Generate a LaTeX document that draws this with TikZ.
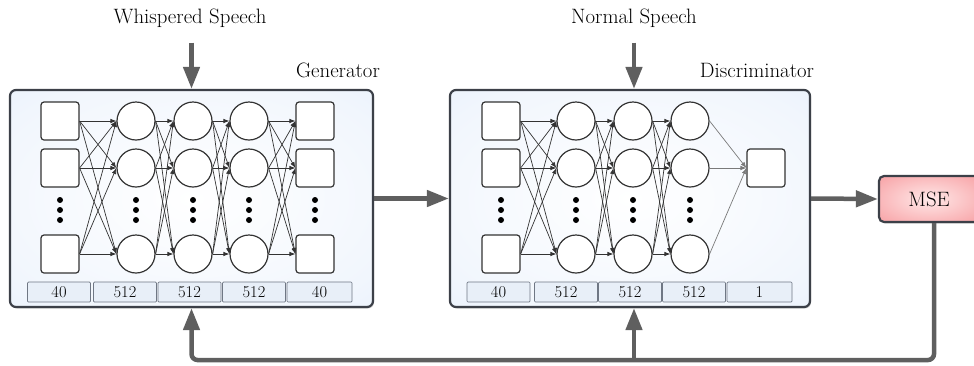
\documentclass[tikz,border=0pt]{standalone}
\usetikzlibrary{arrows.meta}
\usetikzlibrary{positioning}
\usetikzlibrary{shadows}

\definecolor{flowgray}{HTML}{5F5F5F}
\definecolor{edgegray}{HTML}{3C4048}
\definecolor{boxblue}{HTML}{E0EBFA}
\definecolor{boxmid}{HTML}{F1F6FD}
\definecolor{cellblue}{HTML}{E8EFF8}
\definecolor{cellline}{HTML}{6F7784}
\definecolor{msered}{HTML}{F4858A}
\definecolor{msepink}{HTML}{FFE8E8}
\definecolor{linkgray}{HTML}{333333}
\definecolor{outgray}{HTML}{7A7A7A}

\pgfdeclareradialshading{boxglow}{\pgfpoint{0bp}{0bp}}{color(0bp)=(white); color(30bp)=(boxmid); color(50bp)=(boxblue)}
\pgfdeclareradialshading{mseglow}{\pgfpoint{0bp}{0bp}}{color(0bp)=(msepink); color(50bp)=(msered)}

\newcommand{\titlefont}{\fontsize{20.8}{24}\selectfont}
\newcommand{\numfont}{\fontsize{16.5}{19}\selectfont}

\tikzset{
  netbox/.style={draw=edgegray, line width=2.2pt, rounded corners=6pt, shade, shading=boxglow,
    drop shadow={shadow xshift=1pt, shadow yshift=-1.5pt, opacity=0.35}},
  msebox/.style={draw=edgegray, line width=2.2pt, rounded corners=5pt, shade, shading=mseglow,
    drop shadow={shadow xshift=1pt, shadow yshift=-1.5pt, opacity=0.35}, font=\titlefont},
  unit/.style={draw=linkgray, line width=1.2pt, fill=white, rounded corners=3pt,
    minimum size=38pt, inner sep=0pt},
  neuron/.style={draw=linkgray, line width=1.2pt, fill=white, circle,
    minimum size=38pt, inner sep=0pt},
  cell/.style={draw=cellline, line width=0.7pt, fill=cellblue, rounded corners=1pt,
    minimum width=63pt, minimum height=20pt, inner sep=0pt, font=\numfont},
  title/.style={font=\titlefont, inner sep=2pt},
  flow/.style={draw=flowgray, line width=4.5pt, -{Triangle[length=22pt,width=16pt]}},
  link/.style={draw=linkgray, line width=0.7pt, -{Latex[length=6pt,width=4.5pt]}},
  outlink/.style={draw=outgray, line width=0.7pt, -{Latex[length=6pt,width=4.5pt]}},
}

\begin{document}
\begin{tikzpicture}[x=1pt, y=-1pt]
  \useasboundingbox (0,0) rectangle (974,365);

  % outer boxes
  \node[netbox, minimum width=363pt, minimum height=217pt] (gen) at (191.5,198.5) {};
  \node[netbox, minimum width=360pt, minimum height=217pt] (dis) at (630,198.5) {};
  \node[msebox, minimum width=100pt, minimum height=46pt] (mse) at (929,199) {MSE};

  % titles
  \node[title] (ws) at (190,18) {Whispered Speech};
  \node[title] (ns) at (634,18) {Normal Speech};
  \node[title] (gtitle) at (338,70) {Generator};
  \node[title] (dtitle) at (757,70) {Discriminator};

  % generator layers
  \foreach \r/\y in {a/121,b/168,c/254}{
    \node[unit]   (g1\r) at (60,\y) {};
    \node[neuron] (g2\r) at (136,\y) {};
    \node[neuron] (g3\r) at (193,\y) {};
    \node[neuron] (g4\r) at (249,\y) {};
    \node[unit]   (g5\r) at (315,\y) {};
  }
  \foreach \i/\j in {1/2,2/3,3/4,4/5}
    \foreach \r in {a,b,c}
      \foreach \s in {a,b,c}
        \draw[link] (g\i\r.east) -- (g\j\s.west);

  % discriminator layers
  \foreach \r/\y in {a/121,b/168,c/254}{
    \node[unit]   (d1\r) at (501,\y) {};
    \node[neuron] (d2\r) at (576,\y) {};
    \node[neuron] (d3\r) at (633,\y) {};
    \node[neuron] (d4\r) at (690,\y) {};
  }
  \node[unit] (dout) at (766,168) {};
  \foreach \i/\j in {1/2,2/3,3/4}
    \foreach \r in {a,b,c}
      \foreach \s in {a,b,c}
        \draw[link] (d\i\r.east) -- (d\j\s.west);
  \foreach \r in {a,b,c}
    \draw[outlink] (d4\r.east) -- (dout.west);

  % vertical dots
  \foreach \x in {60,136,193,249,315,501,576,633,690}
    \foreach \y in {200,210,220}
      \fill (\x,\y) circle (3pt);

  % layer sizes
  \node[cell] (gl1) at (59,292) {40};
  \node[cell] (gl2) at (125,292) {512};
  \node[cell] (gl3) at (189.5,292) {512};
  \node[cell] (gl4) at (254,292) {512};
  \node[cell, minimum width=65pt] (gl5) at (319.5,292) {40};
  \node[cell] (dl1) at (498.5,292) {40};
  \node[cell] (dl2) at (566,292) {512};
  \node[cell] (dl3) at (630,292) {512};
  \node[cell] (dl4) at (694,292) {512};
  \node[cell, minimum width=65pt] (dl5) at (759.5,292) {1};

  % data flow
  \draw[flow] ([yshift=-13pt]ws.south -| gen.north) -- (gen.north);
  \draw[flow] ([yshift=-13pt]ns.south) -- (ns.south |- dis.north);
  \draw[flow] (gen.east) -- (dis.west);
  \draw[flow] (dis.east) -- (mse.west);

  % feedback
  \coordinate (fb) at (634,360);
  \draw[flow, rounded corners=6pt] ([xshift=5pt]mse.south) |- (fb) -| (gen.south);
  \draw[flow] (fb) -- (fb |- dis.south);
\end{tikzpicture}
\end{document}
